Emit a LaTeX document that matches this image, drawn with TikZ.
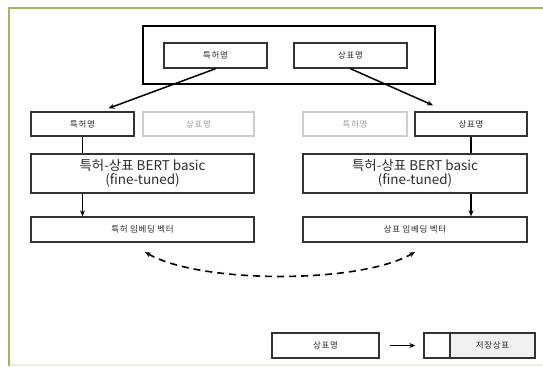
\documentclass[tikz,border=0pt]{standalone}
\usepackage{fontspec}
\setmainfont{Noto Sans CJK KR}
\usetikzlibrary{arrows.meta}
\definecolor{frameg}{RGB}{155,187,89}
\definecolor{framelight}{RGB}{236,241,222}
\definecolor{txt}{RGB}{45,45,45}
\definecolor{ghost}{RGB}{205,205,205}
\definecolor{ghosttxt}{RGB}{160,160,160}
\definecolor{storefill}{RGB}{240,240,240}
\newfontfamily\spaced[LetterSpace=8]{Noto Sans CJK KR}
\tikzset{
  box/.style={draw=black!80, line width=1.4bp, inner sep=0pt, text=txt,
    font=\spaced\fontsize{8.5}{10}\selectfont},
  ghostbox/.style={draw=ghost, line width=1.2bp, inner sep=0pt, text=ghosttxt,
    font=\spaced\fontsize{8.5}{10}\selectfont},
  bigbox/.style={box, font=\fontsize{13.5}{14.5}\selectfont, align=center},
  arr/.style={line width=1.5bp, -{Stealth[length=6bp,width=5bp]}},
  plain/.style={line width=1.5bp},
  dasharr/.style={line width=1.6bp, dash pattern=on 7bp off 5bp,
    {Stealth[length=6bp,width=5bp]}-{Stealth[length=6bp,width=5bp]}},
}
\begin{document}
\begin{tikzpicture}[x=1bp,y=-1bp]
\useasboundingbox (0,0) rectangle (543,366);
% frame
\draw[framelight, line width=2.5bp] (9,365) -- (543,365);
\draw[frameg, line width=2.5bp] (9,366) -- (9,8) -- (543,8);
% top group
\node[draw=black, line width=2.4bp, minimum width=292bp, minimum height=58bp, inner sep=0pt] (top) at (289,55) {};
\node[box, minimum width=103bp, minimum height=25bp] (pat1) at (215.5,55.5) {특허명};
\node[box, minimum width=113bp, minimum height=25bp] (tm1) at (350.5,55.5) {상표명};
% row 2
\node[box, minimum width=103bp, minimum height=24bp] (L1) at (82.5,124) {특허명};
\node[ghostbox, minimum width=111bp, minimum height=24bp] (L2) at (198.5,124) {상표명};
\node[ghostbox, minimum width=104bp, minimum height=24bp] (R1) at (355,124) {특허명};
\node[box, minimum width=112bp, minimum height=24bp] (R2) at (471,124) {상표명};
% BERT
\node[bigbox, minimum width=223bp, minimum height=39bp] (BL) at (142.5,173.5) {특허-상표 BERT basic\\(fine-tuned)};
\node[bigbox, minimum width=224bp, minimum height=39bp] (BR) at (415,173.5) {특허-상표 BERT basic\\(fine-tuned)};
% embeddings
\node[box, minimum width=223bp, minimum height=25bp] (EL) at (142.5,229.5) {특허 임베딩 벡터};
\node[box, minimum width=224bp, minimum height=25bp] (ER) at (415,229.5) {상표 임베딩 벡터};
% bottom legend
\node[box, minimum width=107bp, minimum height=25bp] (tmb) at (325.5,345.5) {상표명};
\node[box, minimum width=26bp, minimum height=25bp] (cell) at (437,345.5) {};
\node[box, fill=storefill, minimum width=85bp, minimum height=25bp] (store) at (492.5,345.5) {저장상표};
% connectors
\draw[arr] (pat1.south) -- ([xshift=26bp,yshift=3bp]L1.north);
\draw[arr] (tm1.south) -- ([xshift=-38bp,yshift=6bp]R2.north);
\draw[plain] (L1.south) -- (L1.south |- BL.north);
\draw[arr] (L1.south |- BL.south) -- (L1.south |- EL.north);
\draw[plain] (R2.south) -- (R2.south |- BR.north);
\draw[arr] (R2.south |- BR.south) -- (R2.south |- ER.north);
\coordinate (dl) at (145,252);
\coordinate (dr) at (415,252);
\draw[dasharr] (dl) .. controls (200,284) and (360,284) .. (dr);
\draw[arr] ([xshift=10bp]tmb.east) -- ([xshift=-8bp]cell.west);
\end{tikzpicture}
\end{document}
